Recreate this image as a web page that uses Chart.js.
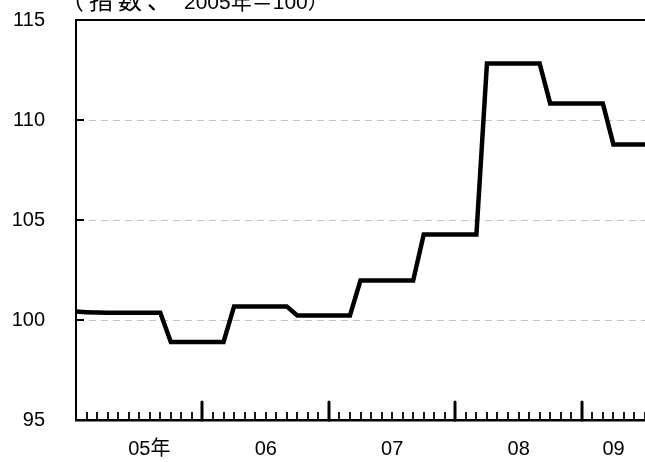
<!DOCTYPE html>
<html>
<head>
<meta charset="utf-8">
<script src="https://cdn.jsdelivr.net/npm/chart.js@4/dist/chart.umd.min.js"></script>
<style>
  html, body { margin: 0; padding: 0; background: #fff; overflow: hidden; }
  canvas { display: block; }
</style>
</head>
<body>
<canvas id="indexChart" width="645" height="462"></canvas>
<script>
/* -------------------- data -------------------- */

var startYear = 2005;
var monthCount = 55;   // 2005/01 .. 2009/07

var months = [];
for (var i = 0; i < monthCount; i++) {
	var y = startYear + Math.floor(i / 12);
	var m = (i % 12) + 1;
	months.push(y + '/' + (m < 10 ? '0' + m : m));
}

var indexValues = [
	100.42, 100.39, 100.37, 100.36, 100.36, 100.36, 100.36, 100.36, 100.36,
	98.9,   98.9,   98.9,   98.9,   98.9,   98.9,
	100.68, 100.68, 100.68, 100.68, 100.68, 100.68,
	100.23, 100.23, 100.23, 100.23, 100.23, 100.23,
	101.98, 101.98, 101.98, 101.98, 101.98, 101.98,
	104.27, 104.27, 104.27, 104.27, 104.27, 104.27,
	112.83, 112.83, 112.83, 112.83, 112.83, 112.83,
	110.83, 110.83, 110.83, 110.83, 110.83, 110.83,
	108.78, 108.78, 108.78, 108.78
];

var yearLabelIndex = [ 6, 18, 30, 42, 51 ];
var yearLabelText  = [ '05年', '06', '07', '08', '09' ];
var yearTickIndex  = [ 12, 24, 36, 48 ];
var yInnerTicks    = [ 100, 105, 110 ];

var titleHead = '（指数、';
var titleTail = '2005年＝100）';

/* -------------------- plugin: ticks, frame, title -------------------- */

var FONT = '"Liberation Sans", Arial, "Noto Sans CJK JP", sans-serif';

var decorPlugin = {
	id: 'decor',
	afterDraw: function (chart) {
		var c = chart.ctx;
		var area = chart.chartArea;
		var xs = chart.scales.x;
		var ys = chart.scales.y;
		c.save();
		c.strokeStyle = '#000';

		// top frame line
		c.lineWidth = 2;
		c.beginPath();
		c.moveTo(area.left - 1, area.top);
		c.lineTo(area.right, area.top);
		c.stroke();

		// monthly minor ticks / yearly major ticks (inside, upward)
		for (var i = 1; i < months.length; i++) {
			var px = Math.round(xs.getPixelForValue(i));
			var major = yearTickIndex.indexOf(i) >= 0;
			c.lineWidth = major ? 3 : 1.8;
			c.lineCap = major ? 'round' : 'butt';
			c.beginPath();
			c.moveTo(px, area.bottom);
			c.lineTo(px, area.bottom - (major ? 18 : 8));
			c.stroke();
		}

		// y inner ticks
		c.lineWidth = 2;
		c.lineCap = 'butt';
		yInnerTicks.forEach(function (v) {
			var py = Math.round(ys.getPixelForValue(v));
			c.beginPath();
			c.moveTo(area.left, py);
			c.lineTo(area.left + 8, py);
			c.stroke();
		});

		// unit title (cut by the top edge)
		c.fillStyle = '#000';
		c.textAlign = 'left';
		c.textBaseline = 'alphabetic';
		c.font = '24px ' + FONT;
		c.letterSpacing = '5px';
		c.fillText(titleHead, 60, 9);
		c.font = '21px ' + FONT;
		c.letterSpacing = '0px';
		c.fillText(titleTail, 184, 8.5);
		c.restore();
	}
};

/* -------------------- chart -------------------- */

var ctx = document.getElementById('indexChart').getContext('2d');

var indexChart = new Chart(ctx, {
	type: 'line',
	data: {
		labels: months,
		datasets: [{
			data: indexValues,
			borderColor: '#000',
			borderWidth: 4.5,
			pointRadius: 0,
			tension: 0,
			fill: false
		}]
	},
	options: {
		responsive: false,
		animation: false,
		layout: {
			padding: { left: 0, right: 0, top: 20, bottom: 0 }
		},
		plugins: {
			legend: { display: false },
			tooltip: { enabled: false }
		},
		scales: {
			x: {
				type: 'category',
				offset: false,
				grid: { display: false, drawTicks: false },
				border: { display: true, color: '#000', width: 2.5 },
				ticks: {
					autoSkip: false,
					maxRotation: 0,
					minRotation: 0,
					align: 'start',
					labelOffset: -11,
					padding: 17,
					color: '#000',
					font: { size: 20, family: FONT },
					callback: function (val, idx) {
						var p = yearLabelIndex.indexOf(idx);
						return p >= 0 ? yearLabelText[p] : '';
					}
				},
				afterFit: function (scale) {
					scale.height = 42;
					scale.paddingLeft = 0;
					scale.paddingRight = 0;
				}
			},
			y: {
				min: 95,
				max: 115,
				grid: {
					drawTicks: false,
					lineWidth: 1,
					color: function (c) {
						var v = c.tick && c.tick.value;
						return (v === 95 || v === 115) ? 'rgba(0,0,0,0)' : '#c4c4c4';
					}
				},
				border: { display: true, color: '#000', width: 2, dash: [7, 5] },
				ticks: {
					stepSize: 5,
					padding: 31,
					color: '#000',
					font: { size: 20, family: FONT }
				},
				afterFit: function (scale) {
					scale.width = 76;
					scale.paddingTop = 0;
					scale.paddingBottom = 0;
				}
			}
		}
	},
	plugins: [ decorPlugin ]
});
</script>
</body>
</html>
